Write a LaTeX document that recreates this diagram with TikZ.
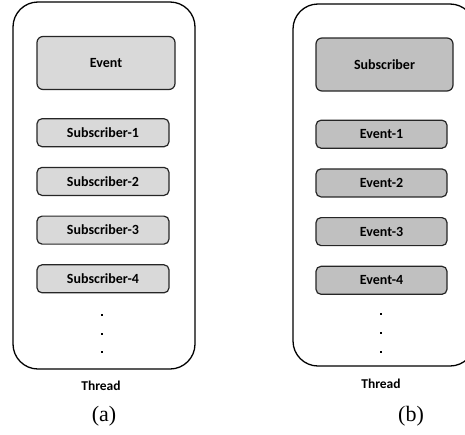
\documentclass[tikz,border=0pt]{standalone}
\usepackage{fontspec}
\setmainfont{Liberation Serif}
\newfontfamily\calib{Carlito}
\usetikzlibrary{positioning}
\definecolor{lightgrey}{RGB}{217,217,217}
\definecolor{midgrey}{RGB}{192,192,192}
\tikzset{
  hilo/.style={
    rounded corners=25pt,
    draw=black,
    line width=1.3pt,
    minimum width=182pt,
    inner sep=0pt
  },
  cabeza/.style={
    rounded corners=6pt,
    draw=black!85,
    line width=1.2pt,
    minimum width=137pt,
    minimum height=53pt,
    inner sep=0pt,
    font=\calib\bfseries\fontsize{14}{16}\selectfont
  },
  fila/.style={
    rounded corners=5pt,
    draw=black!85,
    line width=1.2pt,
    minimum width=132pt,
    minimum height=28pt,
    inner sep=0pt,
    font=\calib\bfseries\fontsize{14}{16}\selectfont
  },
  punto/.style={
    fill=black,
    minimum size=2.6pt,
    inner sep=0pt
  },
  rotulo/.style={
    font=\calib\bfseries\fontsize{13.5}{15}\selectfont
  },
  caso/.style={
    font=\fontsize{22}{24}\selectfont
  }
}

\begin{document}
\begin{tikzpicture}[x=1pt,y=-1pt,node distance=19.5pt]
\useasboundingbox (0,0) rectangle (465,434);

% left thread: one event, many subscribers
\node[hilo, minimum height=367pt] (ta) at (104,185.5) {};
\node[cabeza, fill=lightgrey, minimum width=138pt] (ea) at (106,63) {Event};
\node[fila, fill=lightgrey, below right=28pt and 0pt of ea.south west] (sa1) {Subscriber-1};
\node[fila, fill=lightgrey, below=of sa1] (sa2) {Subscriber-2};
\node[fila, fill=lightgrey, below=of sa2] (sa3) {Subscriber-3};
\node[fila, fill=lightgrey, below=of sa3] (sa4) {Subscriber-4};
\node[punto] (pa1) at (102,315) {};
\node[punto] (pa2) at (102,334) {};
\node[punto] (pa3) at (102,352) {};
\node[rotulo] (ha) at (101,386) {Thread};
\node[caso] (ca) at (104,416) {(a)};

% right thread: one subscriber, many events
\node[hilo, minimum height=362pt] (tb) at (384,185) {};
\node[cabeza, fill=midgrey] (sb) at (384.5,64.5) {Subscriber};
\node[fila, fill=midgrey, minimum width=131pt, below right=28pt and 0pt of sb.south west] (eb1) {Event-1};
\node[fila, fill=midgrey, minimum width=131pt, below=of eb1] (eb2) {Event-2};
\node[fila, fill=midgrey, minimum width=131pt, below=of eb2] (eb3) {Event-3};
\node[fila, fill=midgrey, minimum width=131pt, below=of eb3] (eb4) {Event-4};
\node[punto] (pb1) at (381,314) {};
\node[punto] (pb2) at (381,333) {};
\node[punto] (pb3) at (381,352) {};
\node[rotulo] (hb) at (381,384) {Thread};
\node[caso] (cb) at (411,416) {(b)};
\end{tikzpicture}
\end{document}
